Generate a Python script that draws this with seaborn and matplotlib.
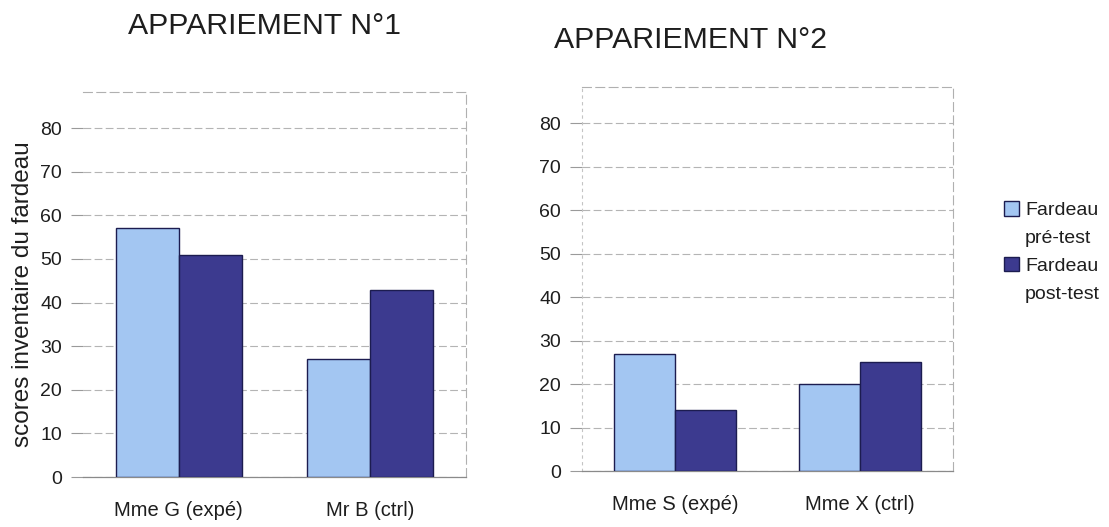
import matplotlib
matplotlib.use("Agg")
import matplotlib.pyplot as plt
import seaborn as sns
import pandas as pd

# Scores of the burden inventory, before and after the programme
pair1_names = ["Mme G (expé)", "Mr B (ctrl)"]
pair1_pre = [57, 27]
pair1_post = [51, 43]

pair2_names = ["Mme S (expé)", "Mme X (ctrl)"]
pair2_pre = [27, 20]
pair2_post = [14, 25]

series_labels = ["Fardeau\npré-test", "Fardeau\npost-test"]
titles = ["APPARIEMENT N°1", "APPARIEMENT N°2"]
y_ticks = [0, 10, 20, 30, 40, 50, 60, 70, 80]
y_label = "scores inventaire du fardeau"

colors = ["#a3c6f2", "#3c3a8f"]
edge = "#1c1c50"
text_col = "#1e1e1e"
grid_col = "#b4b4b4"

sns.set_theme(style="white")
plt.rcParams["font.family"] = ["Liberation Sans", "DejaVu Sans"]


def long_table(names, pre, post):
    rows = []
    for n, a, b in zip(names, pre, post):
        rows.append({"sujet": n, "phase": series_labels[0], "score": a})
        rows.append({"sujet": n, "phase": series_labels[1], "score": b})
    return pd.DataFrame(rows)


W, H = 1109, 527
fig = plt.figure(figsize=(W / 100, H / 100), dpi=100)
fig.patch.set_facecolor("white")


def frac_rect(x0, x1, ytop, ybot):
    return [x0 / W, 1 - ybot / H, (x1 - x0) / W, (ybot - ytop) / H]


ax1 = fig.add_axes(frac_rect(83, 466, 92, 477))
ax2 = fig.add_axes(frac_rect(582, 953, 87, 471))

panels = [
    (ax1, long_table(pair1_names, pair1_pre, pair1_post), titles[0]),
    (ax2, long_table(pair2_names, pair2_pre, pair2_post), titles[1]),
]

for i, (ax, df, title) in enumerate(panels):
    sns.barplot(data=df, x="sujet", y="score", hue="phase",
                palette=colors, width=0.66, gap=0, dodge=True,
                edgecolor=edge, linewidth=1.0, saturation=1,
                errorbar=None, ax=ax, zorder=3)
    ax.get_legend().remove()
    ax.set_xlim(-0.5, 1.5)
    ax.set_ylim(0, 88.3)
    ax.set_yticks(y_ticks)
    ax.set_xlabel("")
    ax.set_ylabel("")
    ax.tick_params(axis="y", labelsize=14, colors=text_col, length=9,
                   width=0.8, color="#9a9a9a", pad=6, left=True)
    ax.tick_params(axis="x", labelsize=14.5, colors=text_col, length=0, pad=17)
    for t in ax.get_yticklabels() + ax.get_xticklabels():
        t.set_color(text_col)
    ax.yaxis.grid(True, color=grid_col, linewidth=0.8, linestyle=(0, (7, 3)))
    ax.set_axisbelow(True)
    for side in ["top", "right"]:
        ax.spines[side].set_visible(True)
        ax.spines[side].set_color("#b0b0b0")
        ax.spines[side].set_linewidth(0.8)
        ax.spines[side].set_linestyle((0, (8, 4)))
    ax.spines["left"].set_visible(i == 1)
    ax.spines["left"].set_color("#c4c4c4")
    ax.spines["left"].set_linestyle((0, (2, 4)))
    ax.spines["left"].set_linewidth(0.8)
    ax.spines["bottom"].set_color("#8a8a8a")
    ax.spines["bottom"].set_linewidth(0.9)

# category separator tick on the first panel
ax1.set_xticks([0.5], minor=True)
ax1.tick_params(axis="x", which="minor", length=8, width=0.9, color="#707070",
                direction="out")

ax1.set_ylabel(y_label, fontsize=17.5, color=text_col)
ax1.yaxis.set_label_coords(-0.128, 0.475)

fig.text(264 / W, 1 - 26 / H, titles[0], ha="center", va="center",
         fontsize=21.8, color=text_col)
fig.text(690 / W, 1 - 40 / H, titles[1], ha="center", va="center",
         fontsize=21.8, color=text_col)

# legend: swatch next to the first line of each two-line label
handles, _ = ax1.get_legend_handles_labels()
blank = plt.Rectangle((0, 0), 1, 1, fill=False, edgecolor="none", visible=False)
leg_handles, leg_labels = [], []
for h, lab in zip(handles, series_labels):
    first, second = lab.split("\n")
    leg_handles += [h, blank]
    leg_labels += [first, second]
leg = fig.legend(leg_handles, leg_labels, loc="upper left",
                 bbox_to_anchor=(996 / W, 1 - 193 / H), frameon=False,
                 fontsize=14, handlelength=0.8, handleheight=0.8,
                 handletextpad=0.3, labelspacing=0.5, borderaxespad=0)
for t in leg.get_texts():
    t.set_color(text_col)

fig.savefig("out.png", dpi=100, facecolor="white")
